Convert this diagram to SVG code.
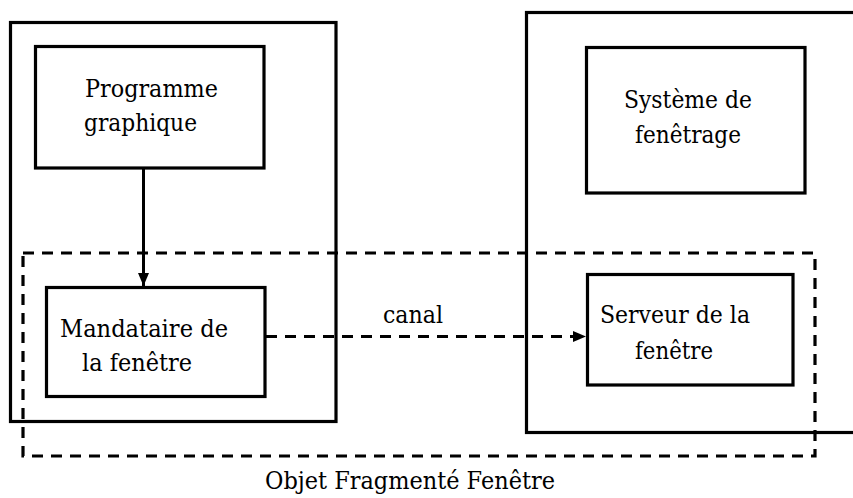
<svg xmlns="http://www.w3.org/2000/svg" width="853" height="498" viewBox="0 0 853 498">
  <style>
    .box { fill: none; stroke: #000; stroke-width: 3.2; }
    .dash { fill: none; stroke: #000; stroke-width: 3.2; stroke-dasharray: 11 8; }
    .wire { fill: none; stroke: #000; stroke-width: 3; }
    .lbl { font-family: "DejaVu Serif", "Liberation Serif", serif; font-size: 25px; fill: #000; }
  </style>
  <defs>
    <marker id="head" markerUnits="userSpaceOnUse" markerWidth="14" markerHeight="12" refX="13" refY="5.5" orient="auto">
      <path d="M0,0 L13,5.5 L0,11 Z" fill="#000" stroke="none"/>
    </marker>
  </defs>
  <rect width="853" height="498" fill="#fff"/>

  <!-- client-side host -->
  <g id="client-host">
    <rect class="box" x="10.5" y="22.5" width="325.5" height="399"/>
  </g>

  <!-- server-side host (runs off the right edge) -->
  <g id="server-host">
    <rect class="box" x="526.5" y="12.5" width="340" height="420"/>
  </g>

  <!-- fragmented window object -->
  <g id="fragmented-object">
    <rect class="dash" x="23" y="253" width="792" height="203"/>
    <text class="lbl" x="265" y="489" textLength="290" lengthAdjust="spacingAndGlyphs">Objet Fragmenté Fenêtre</text>
  </g>

  <g id="programme">
    <rect class="box" x="35.5" y="46.5" width="228.5" height="121.5"/>
    <text class="lbl" x="85" y="97" textLength="133" lengthAdjust="spacingAndGlyphs">Programme</text>
    <text class="lbl" x="84" y="131" textLength="113" lengthAdjust="spacingAndGlyphs">graphique</text>
  </g>

  <g id="mandataire">
    <rect class="box" x="46.5" y="287.5" width="218.5" height="109"/>
    <text class="lbl" x="60" y="337" textLength="168" lengthAdjust="spacingAndGlyphs">Mandataire de</text>
    <text class="lbl" x="82" y="371" textLength="110" lengthAdjust="spacingAndGlyphs">la fenêtre</text>
  </g>

  <g id="systeme">
    <rect class="box" x="586.5" y="47.5" width="218.5" height="145.5"/>
    <text class="lbl" x="624" y="108" textLength="128" lengthAdjust="spacingAndGlyphs">Système de</text>
    <text class="lbl" x="635" y="143" textLength="106" lengthAdjust="spacingAndGlyphs">fenêtrage</text>
  </g>

  <g id="serveur">
    <rect class="box" x="587.5" y="274.5" width="205.5" height="110.5"/>
    <text class="lbl" x="600" y="323" textLength="150" lengthAdjust="spacingAndGlyphs">Serveur de la</text>
    <text class="lbl" x="635" y="359" textLength="78" lengthAdjust="spacingAndGlyphs">fenêtre</text>
  </g>

  <!-- connectors -->
  <g id="connectors">
    <line class="wire" x1="143.5" y1="168" x2="143.5" y2="286" marker-end="url(#head)"/>
    <line class="dash" x1="266" y1="336.5" x2="586" y2="336.5" marker-end="url(#head)"/>
    <text class="lbl" x="383" y="323" textLength="60" lengthAdjust="spacingAndGlyphs">canal</text>
  </g>
</svg>
